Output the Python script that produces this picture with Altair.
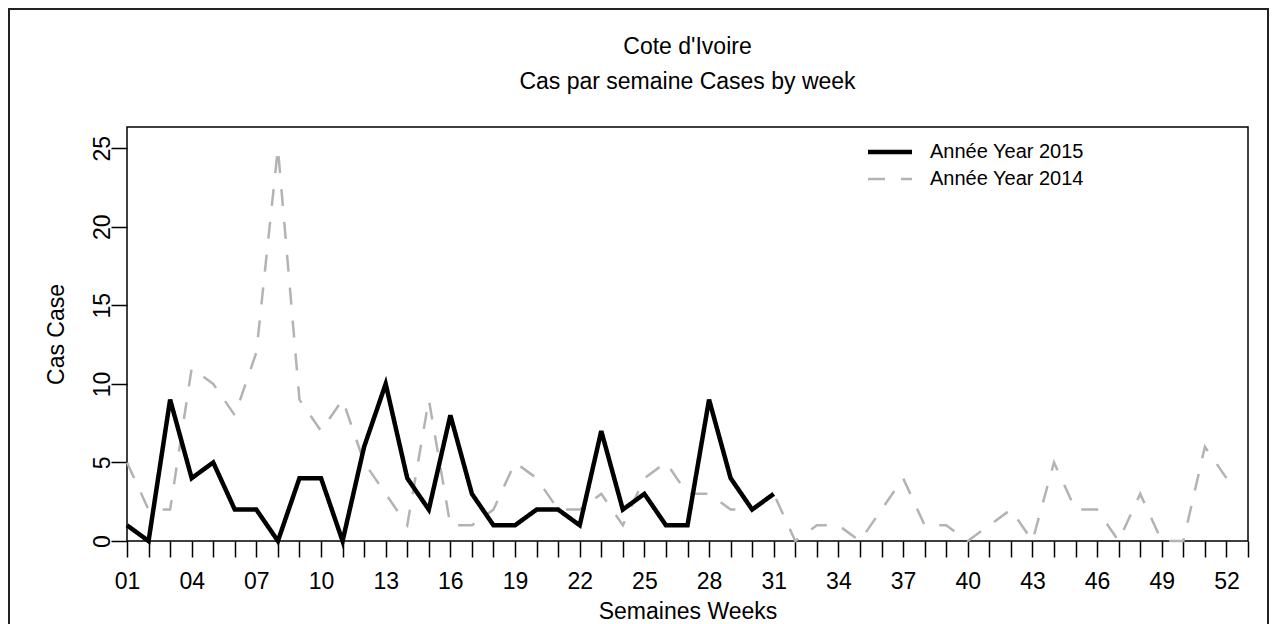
import altair as alt
import pandas as pd

# ---- data ----
weeks_2015 = list(range(1, 32))
cases_2015 = [1, 0, 9, 4, 5, 2, 2, 0, 4, 4, 0, 6, 10, 4, 2, 8, 3, 1, 1, 2,
              2, 1, 7, 2, 3, 1, 1, 9, 4, 2, 3]
weeks_2014 = list(range(1, 53))
cases_2014 = [5, 2, 2, 11, 10, 8, 12, 25, 9, 7, 9, 5, 3, 1, 9, 1, 1, 2, 5, 4,
              2, 2, 3, 1, 4, 5, 3, 3, 2, 2, 3, 0, 1, 1, 0, 2, 4, 1, 1, 0,
              1, 2, 0, 5, 2, 2, 0, 3, 0, 0, 6, 4]
series_names = ["Année Year 2015", "Année Year 2014"]
tick_weeks = list(range(1, 54))
label_weeks = [1, 4, 7, 10, 13, 16, 19, 22, 25, 28, 31, 34, 37, 40, 43, 46, 49, 52]
label_texts = ["01", "04", "07", "10", "13", "16", "19", "22", "25", "28",
               "31", "34", "37", "40", "43", "46", "49", "52"]
y_ticks = [0, 5, 10, 15, 20, 25]

# ---- styles ----
FONT = "Liberation Sans"
series_colors = ["#000000", "#b3b3b3"]
series_dash = [[1, 0], [17, 16]]
series_width = [4.5, 2.5]

W, H = 1121, 414
PAD = {"left": 119, "top": 119, "right": 21, "bottom": 83}

df = pd.concat([
    pd.DataFrame({"week": weeks_2014, "cases": cases_2014, "series": series_names[1]}),
    pd.DataFrame({"week": weeks_2015, "cases": cases_2015, "series": series_names[0]}),
], ignore_index=True)

label_expr = "".join(f"datum.value == {w} ? '{t}' : " for w, t in zip(label_weeks, label_texts)) + "''"

legend = alt.Legend(
    title=None, orient="none", legendX=749.5, legendY=11.5,
    symbolType="M-2,0H2", symbolSize=484,
    labelFont=FONT, labelFontSize=20, labelColor="black",
    labelOffset=26.5, labelLimit=400, rowPadding=4, padding=0,
)

lines = alt.Chart(df).mark_line().encode(
    x=alt.X("week:Q",
            scale=alt.Scale(domain=[1, 53], nice=False, zero=False),
            axis=alt.Axis(values=tick_weeks, labelExpr=label_expr,
                          title="Semaines Weeks", labelFlush=False, labelOverlap=False,
                          labelAlign="center", labelBaseline="top", labelPadding=13,
                          titleX=W / 2, titleY=77, titleBaseline="alphabetic",
                          titleAlign="center")),
    y=alt.Y("cases:Q",
            scale=alt.Scale(domain=[0, 26.35], nice=False, zero=False),
            axis=alt.Axis(values=y_ticks, title="Cas Case", labelAngle=270,
                          labelAlign="center", labelBaseline="alphabetic",
                          labelPadding=2, labelFlush=False, labelOverlap=False,
                          titleAngle=270, titleX=-64, titleY=207,
                          titleAlign="center", titleBaseline="alphabetic")),
    color=alt.Color("series:N", scale=alt.Scale(domain=series_names, range=series_colors),
                    legend=legend),
    strokeDash=alt.StrokeDash("series:N", scale=alt.Scale(domain=series_names, range=series_dash),
                              legend=legend),
    strokeWidth=alt.StrokeWidth("series:N",
                                scale=alt.Scale(type="point", domain=series_names,
                                                range=series_width, padding=0),
                                legend=legend),
)

frame = alt.Chart(pd.DataFrame({"f": [0]})).mark_rect(
    fill="transparent", stroke="#222222", strokeWidth=2
).encode(
    x=alt.value(-PAD["left"] + 1), x2=alt.value(W + PAD["right"] - 1),
    y=alt.value(-PAD["top"] + 1), y2=alt.value(H + PAD["bottom"] + 20),
)

chart = alt.layer(frame, lines).properties(
    width=W, height=H,
    padding=PAD,
    autosize=alt.AutoSizeParams(type="none"),
    background="white",
    title=alt.TitleParams(
        text=["Cote d'Ivoire", "Cas par semaine Cases by week"],
        font=FONT, fontSize=23, fontWeight="normal", color="black",
        lineHeight=35, anchor="middle", frame="group", offset=-109, baseline="bottom",
    ),
).configure_view(
    stroke="black", strokeWidth=1.5
).configure_axis(
    grid=False, domain=False,
    labelFont=FONT, titleFont=FONT, labelFontSize=23, titleFontSize=23,
    labelColor="black", titleColor="black", titleFontWeight="normal",
    tickColor="black", tickWidth=1.5, tickSize=16,
)

chart.save("out.html", embed_options={"renderer": "svg", "actions": False})
